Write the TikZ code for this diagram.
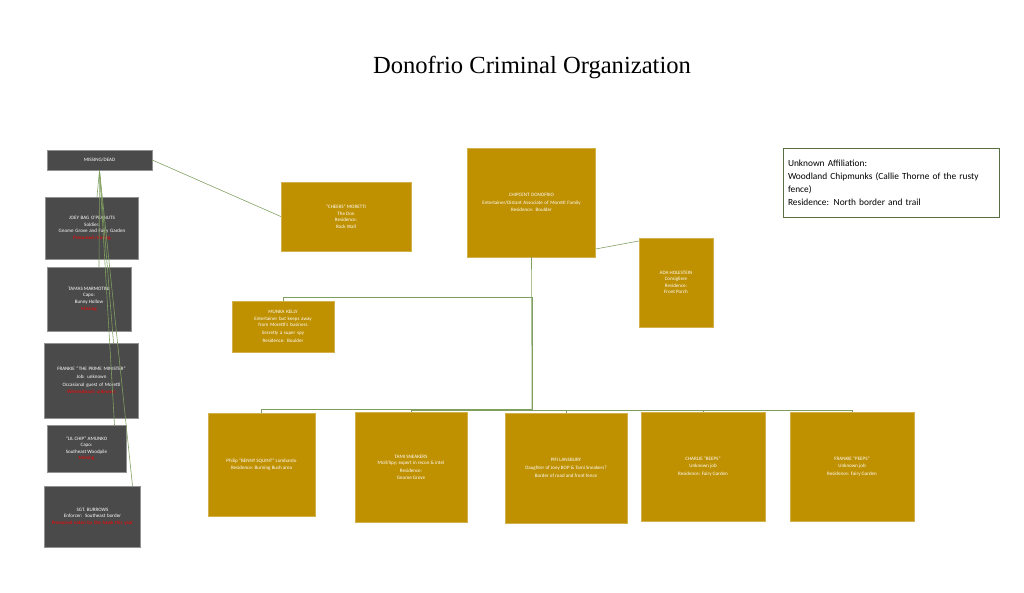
\documentclass[tikz,border=0pt]{standalone}
\usepackage{fontspec}
\setmainfont{Carlito}
\newfontfamily\titlefont{Liberation Serif}
\usetikzlibrary{positioning}
\definecolor{gold}{HTML}{BF9000}
\definecolor{slate}{HTML}{4A4A4A}
\definecolor{twig}{HTML}{7F9F5F}
\begin{document}
\begin{tikzpicture}[x=0.03cm, y=-0.03cm,
  gbox/.style={fill=gold, draw=gold!70!white, text=white, align=center, font=\fontsize{4.3}{5.6}\selectfont},
  dbox/.style={fill=slate, draw=slate!60!white, text=white, align=center, font=\fontsize{4.3}{5.6}\selectfont},
  lnk/.style={draw=twig, line width=0.5pt},
]
\useasboundingbox (0,0) rectangle (1024,593);
\node[font=\titlefont\fontsize{21}{24}\selectfont] (title) at (532,67) {Donofrio Criminal Organization};
%missing column
\node[dbox, minimum width=105*0.03cm, minimum height=20*0.03cm] (missing) at (99.5,160) {MISSING/DEAD};
\node[dbox, minimum width=90*0.03cm, minimum height=62*0.03cm, text width=85*0.03cm] (joey) at (92,228) {JOEY BAG O'PEANUTS\\Soldier:\\Gnome Grove and Fairy Garden\\\textcolor{red}{Presumed missing}};
\node[dbox, minimum width=84*0.03cm, minimum height=64*0.03cm] (tamas) at (89,299) {TAMAS MARMOTINI\\Capo:\\Bunny Hollow\\\textcolor{red}{Missing}};
\node[dbox, minimum width=89*0.03cm, minimum height=75*0.03cm, text width=86*0.03cm] (frankie) at (91.5,380.5) {FRANKIE ``THE PRIME MINISTER''\\[1pt]Job: unknown\\[1pt]Occasional guest of Moretti\\[1pt]\textcolor{red}{Whereabouts unknown}};
\node[dbox, minimum width=79*0.03cm, minimum height=47*0.03cm] (lilchip) at (86.5,448.5) {``LIL CHIP'' AMUNKO\\Capo:\\Southeast Woodpile\\\textcolor{red}{Missing}};
\node[dbox, minimum width=91*0.03cm, minimum height=61*0.03cm, text width=88*0.03cm] (burrows) at (92.5,516.5) {SGT. BURROWS\\Enforcer: Southeast border\\\textcolor{red}{Presumed eaten by the hawk this year}};
%top layer
\node[gbox, minimum width=130*0.03cm, minimum height=69*0.03cm] (cheeks) at (346,216.5) {``CHEEKS'' MORETTI\\The Don\\Residence:\\Rock Wall};
\node[gbox, minimum width=123*0.03cm, minimum height=109*0.03cm, text width=120*0.03cm] (chipcent) at (531.5,202.5) {CHIPCENT DONOFRIO\\[1pt]Entertainer/Distant Associate of Moretti Family\\[1pt]Residence: Boulder};
\node[gbox, minimum width=74*0.03cm, minimum height=89*0.03cm] (ada) at (676,282.5) {ADA HOLESTEIN\\Consigliere\\Residence:\\Front Porch};
\node[gbox, minimum width=96*0.03cm, minimum height=51*0.03cm, text width=94*0.03cm] (munka) at (283,326.5) {MUNKA KELLY\\Entertainer but keeps away from Moretti's business\\[1pt]Secretly a super spy\\[1pt]Residence: Boulder};
%bottom layer
\node[gbox, minimum width=107*0.03cm, minimum height=103*0.03cm] (philip) at (261.5,464.5) {Philip ``BENNY SQUINT'' Lombardo\\Residence: Burning Bush area};
\node[gbox, minimum width=112*0.03cm, minimum height=110*0.03cm] (tami) at (411,467) {TAMI SNEAKERS\\Moll/Spy; expert in recon \& intel\\[1pt]Residence:\\Gnome Grove};
\node[gbox, minimum width=122*0.03cm, minimum height=110*0.03cm] (pifi) at (566,468) {PIFI LANSBURY\\[1pt]Daughter of Joey BOP \& Tami Sneakers?\\[1pt]Border of road and front fence};
\node[gbox, minimum width=124*0.03cm, minimum height=109*0.03cm] (charlie) at (703,466.5) {CHARLIE ``BEEPS''\\[1pt]Unknown job\\[1pt]Residence: Fairy Garden};
\node[gbox, minimum width=124*0.03cm, minimum height=109*0.03cm] (peeps) at (852,466.5) {FRANKIE ``PEEPS''\\[1pt]Unknown job\\[1pt]Residence: Fairy Garden};
%side note
\node[draw=twig!70!black, align=left, font=\fontsize{8}{11}\selectfont, minimum width=216*0.03cm, minimum height=69*0.03cm, text width=206*0.03cm] (unknown) at (891,182.5) {Unknown Affiliation:\\Woodland Chipmunks (Callie Thorne of the rusty fence)\\Residence: North border and trail};

\coordinate (hub) at (532,410);
\draw[lnk] (chipcent.south) -- (hub);
\draw[lnk] (chipcent.east |- 0,249) -- (ada.west |- 0,241);
\draw[lnk] (missing.east) -- (cheeks.west);
\draw[lnk] (munka.north) -- ++(0,-3) -| (hub);
\draw[lnk] (philip.north) -- ++(0,-3) -| (hub);
\foreach \kid in {tami, pifi, charlie, peeps}
  \draw[lnk] (\kid.north) |- (hub);
\foreach \kid / \dx in {joey/5, tamas/10, frankie/22, lilchip/28, burrows/40}
  \draw[lnk] (missing.south) -- ([xshift=\dx*0.03cm]\kid.north);
\end{tikzpicture}
\end{document}
